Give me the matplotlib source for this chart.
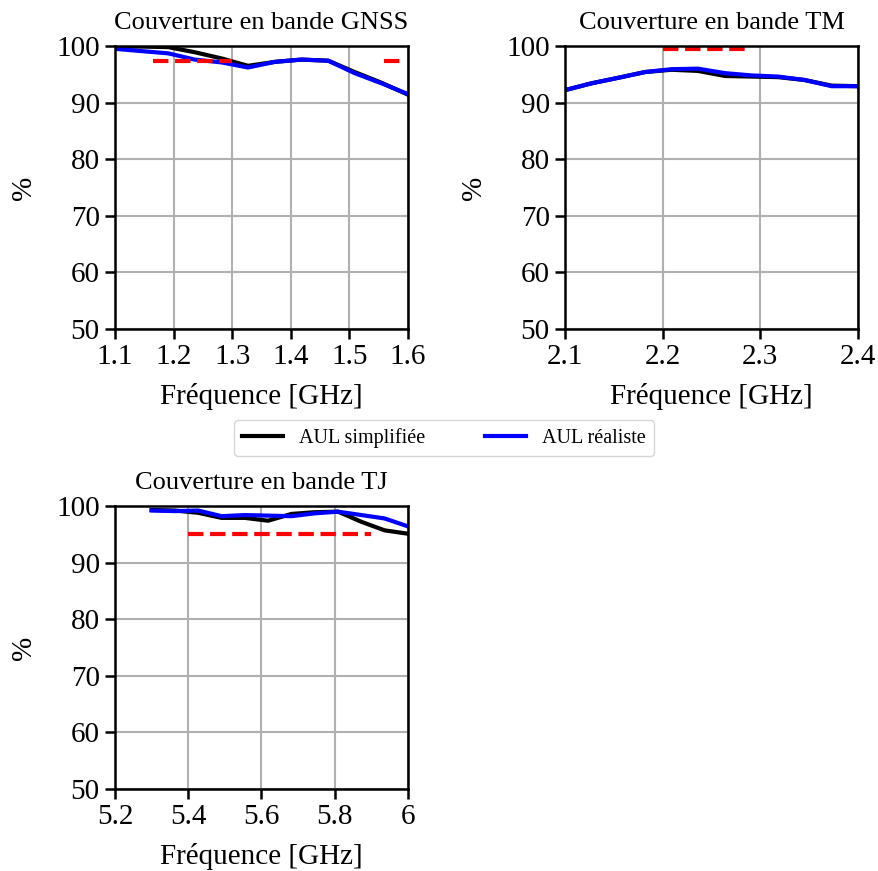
import numpy as np
import matplotlib
matplotlib.use('Agg')
import matplotlib.pyplot as plt

plt.rcParams['font.family'] = ['Liberation Serif', 'DejaVu Serif']

# GNSS
f_gnss = [1.1, 1.145, 1.191, 1.236, 1.282, 1.327, 1.373, 1.418, 1.464, 1.509, 1.555, 1.6]
simp_gnss = [99.9, 99.9, 99.8, 98.9, 97.8, 96.5, 97.2, 97.6, 97.4, 95.4, 93.5, 91.4]
real_gnss = [99.5, 99.1, 98.7, 97.6, 97.1, 96.2, 97.2, 97.6, 97.4, 95.2, 93.4, 91.5]
req_gnss = [([1.164, 1.3], 97.4), ([1.559, 1.591], 97.4)]

# TM
f_tm = [2.1, 2.127, 2.155, 2.182, 2.209, 2.236, 2.264, 2.291, 2.318, 2.345, 2.373, 2.4]
simp_tm = [92.2, 93.4, 94.4, 95.4, 95.8, 95.6, 94.7, 94.6, 94.5, 94.0, 93.0, 92.9]
real_tm = [92.2, 93.4, 94.4, 95.4, 95.9, 96.0, 95.2, 94.8, 94.6, 94.0, 92.9, 92.9]
req_tm = [([2.2, 2.29], 99.5)]

# TJ
f_tj = [5.3, 5.364, 5.427, 5.491, 5.555, 5.618, 5.682, 5.745, 5.809, 5.873, 5.936, 6.0]
simp_tj = [99.3, 99.2, 98.8, 97.9, 97.9, 97.4, 98.6, 98.9, 99.0, 97.2, 95.7, 95.1]
real_tj = [99.2, 99.1, 99.2, 98.2, 98.4, 98.3, 98.2, 98.7, 99.0, 98.4, 97.8, 96.4]
req_tj = [([5.4, 5.9], 95.0)]

panels = [
    ("Couverture en bande GNSS", f_gnss, simp_gnss, real_gnss, req_gnss,
     (1.1, 1.6), [1.1, 1.2, 1.3, 1.4, 1.5, 1.6], ['1.1', '1.2', '1.3', '1.4', '1.5', '1.6'],
     [115/879, 542/871, 293/879, 283/871]),
    ("Couverture en bande TM", f_tm, simp_tm, real_tm, req_tm,
     (2.1, 2.4), [2.1, 2.2, 2.3, 2.4], ['2.1', '2.2', '2.3', '2.4'],
     [565/879, 542/871, 293/879, 283/871]),
    ("Couverture en bande TJ", f_tj, simp_tj, real_tj, req_tj,
     (5.2, 6.0), [5.2, 5.4, 5.6, 5.8, 6.0], ['5.2', '5.4', '5.6', '5.8', '6'],
     [115/879, 82/871, 293/879, 283/871]),
]

fig = plt.figure(figsize=(8.79, 8.71), dpi=100)

for title, f, simp, real, reqs, xlim, xt, xtl, pos in panels:
    ax = fig.add_axes(pos)
    ax.grid(True, color='#b0b0b0', linewidth=1.5)
    ax.set_axisbelow(True)
    l1, = ax.plot(f, simp, color='black', linewidth=3, label='AUL simplifiée')
    l2, = ax.plot(f, real, color='blue', linewidth=3, label='AUL réaliste')
    for xs, yv in reqs:
        ax.plot(xs, [yv, yv], color='red', linestyle='--', linewidth=3)
    ax.set_xlim(*xlim)
    ax.set_ylim(50, 100)
    ax.set_xticks(xt)
    ax.set_xticklabels(xtl)
    ax.set_yticks([50, 60, 70, 80, 90, 100])
    ax.tick_params(labelsize=21, width=1.8, length=7, pad=4)
    for s in ax.spines.values():
        s.set_linewidth(1.8)
    ax.set_title(title, fontsize=19, pad=12)
    ax.set_xlabel('Fréquence [GHz]', fontsize=21, labelpad=9)
    ax.set_ylabel('%', fontsize=21, labelpad=14)

fig.legend(handles=[l1, l2], loc='center', bbox_to_anchor=(444/879, 1 - 438/871),
           ncol=2, fontsize=14.5, frameon=True, edgecolor='#cccccc', fancybox=True,
           columnspacing=3)

fig.savefig('out.png', dpi=100)
